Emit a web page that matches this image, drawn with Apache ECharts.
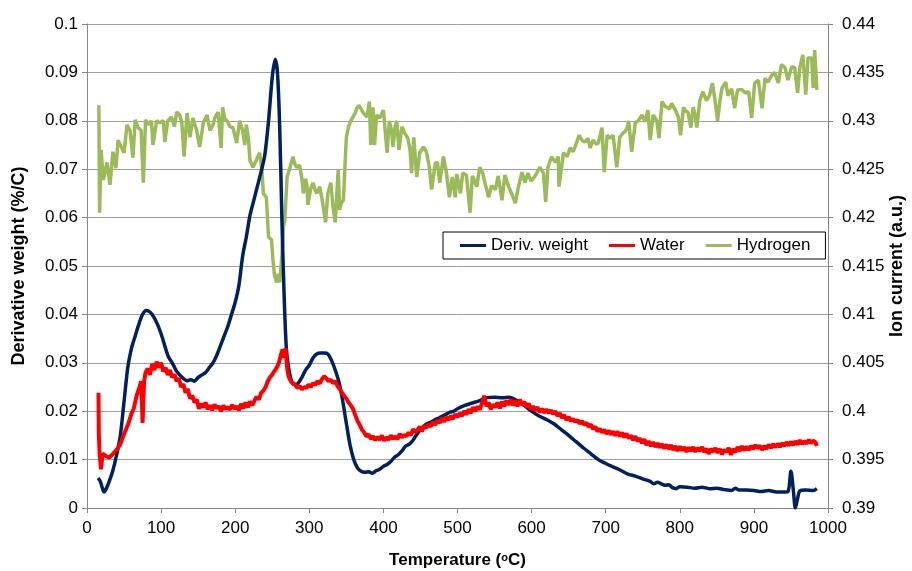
<!DOCTYPE html>
<html>
<head>
<meta charset="utf-8">
<title>TGA-MS</title>
<script src="https://cdn.jsdelivr.net/npm/echarts@6/dist/echarts.min.js"></script>
<style>
  html, body { margin: 0; padding: 0; background: #fff; }
  #chart { width: 912px; height: 571px; }
</style>
</head>
<body>
<div id="chart"></div>
<script>
// Temperature ticks (x), left axis (derivative weight) and right axis (ion current)
const tempTicks = [0, 100, 200, 300, 400, 500, 600, 700, 800, 900, 1000]
const leftTicks = [0, 0.01, 0.02, 0.03, 0.04, 0.05, 0.06, 0.07, 0.08, 0.09, 0.1]
const rightTicks = [0.39, 0.395, 0.4, 0.405, 0.41, 0.415, 0.42, 0.425, 0.43, 0.435, 0.44]

// Deriv. weight (%/C)
const derivTemp = [15, 18, 20, 23, 26, 30, 35, 40, 45, 50, 55, 60, 65, 70, 75, 80, 85, 90, 95, 100,
  105, 110, 115, 120, 125, 130, 135, 140, 145, 150, 155, 160, 165, 170, 175, 180, 185, 190, 195, 200,
  205, 210, 215, 220, 225, 230, 235, 240, 245, 250, 254, 257, 260, 263, 266, 269, 272, 276, 280, 285,
  290, 295, 300, 305, 310, 315, 320, 325, 330, 335, 340, 345, 350, 355, 360, 365, 370, 375, 380, 385,
  390, 395, 400, 405, 410, 415, 420, 425, 430, 435, 440, 445, 450, 455, 460, 465, 470, 475, 480, 485,
  490, 495, 500, 510, 520, 530, 540, 550, 560, 570, 580, 590, 600, 610, 620, 630, 640, 650, 660, 670,
  680, 690, 700, 710, 720, 730, 740, 750, 760, 765, 770, 775, 780, 785, 790, 795, 800, 810, 820, 830,
  840, 850, 860, 870, 875, 880, 890, 900, 910, 920, 930, 940, 946, 950, 953, 956, 959, 962, 970, 980, 985]
const derivValues = [0.0062, 0.0055, 0.0045, 0.0033, 0.0040, 0.0055, 0.0078, 0.0110, 0.0150, 0.0220,
  0.0290, 0.0330, 0.0355, 0.0380, 0.0400, 0.0408, 0.0405, 0.0395, 0.0380, 0.0360,
  0.0335, 0.0312, 0.0300, 0.0285, 0.0275, 0.0268, 0.0263, 0.0265, 0.0262, 0.0270,
  0.0275, 0.0280, 0.0290, 0.0300, 0.0315, 0.0335, 0.0355, 0.0375, 0.0400, 0.0425,
  0.0460, 0.0520, 0.0560, 0.0605, 0.0635, 0.0665, 0.0695, 0.0730, 0.0800, 0.0890,
  0.0927, 0.0900, 0.0790, 0.0600, 0.0440, 0.0330, 0.0290, 0.0262, 0.0255, 0.0258,
  0.0270, 0.0285, 0.0295, 0.0310, 0.0318, 0.0320, 0.0320, 0.0318, 0.0305, 0.0285,
  0.0260, 0.0222, 0.0175, 0.0130, 0.0100, 0.0083, 0.0076, 0.0074, 0.0075, 0.0072,
  0.0077, 0.0080, 0.0086, 0.0090, 0.0096, 0.0105, 0.0110, 0.0118, 0.0128, 0.0132,
  0.0140, 0.0152, 0.0162, 0.0170, 0.0175, 0.0178, 0.0183, 0.0186, 0.0190, 0.0194,
  0.0198, 0.0200, 0.0205, 0.0212, 0.0217, 0.0222, 0.0228, 0.0229, 0.0228, 0.0229,
  0.0222, 0.0212, 0.0200, 0.0190, 0.0183, 0.0174, 0.0162, 0.0150, 0.0137, 0.0124,
  0.0112, 0.0100, 0.0092, 0.0085, 0.0078, 0.0070, 0.0066, 0.0060, 0.0055, 0.0050,
  0.0053, 0.0050, 0.0047, 0.0048, 0.0042, 0.0040, 0.0044, 0.0043, 0.0041, 0.0043,
  0.0040, 0.0041, 0.0038, 0.0036, 0.0041, 0.0037, 0.0037, 0.0036, 0.0034, 0.0036,
  0.0033, 0.0033, 0.0034, 0.0076, 0.0040, 0.0000, 0.0020, 0.0035, 0.0037, 0.0036, 0.0040]

// Water ion current, plotted on the left axis scale as in the original
const waterTemp = [15.5, 16, 17, 19, 21, 25, 30, 35, 40, 45, 48, 52, 56, 60, 63, 67, 71, 73, 74, 75,
  77, 79, 82, 85, 88, 91, 94, 97, 100, 103, 106, 109, 112, 115, 118, 121, 124, 127, 130, 133,
  136, 139, 142, 145, 148, 151, 154, 157, 160, 163, 166, 169, 172, 175, 178, 181, 184, 187, 190, 193,
  196, 199, 202, 205, 208, 211, 214, 217, 220, 223, 226, 229, 232, 235, 238, 241, 244, 247, 250, 253,
  256, 259, 262, 264, 266, 268, 270, 272, 275, 278, 281, 284, 287, 290, 293, 296, 299, 302, 305, 308,
  311, 314, 317, 320, 323, 326, 329, 332, 335, 338, 341, 344, 347, 350, 353, 356, 359, 362, 365, 368,
  371, 374, 377, 380, 383, 386, 389, 392, 395, 398, 401, 404, 407, 410, 413, 416, 419, 422, 425, 428,
  431, 434, 437, 440, 443, 446, 449, 452, 455, 458, 461, 464, 467, 470, 473, 476, 479, 482, 485, 488,
  491, 494, 497, 500, 503, 506, 509, 512, 515, 518, 521, 524, 527, 530, 533, 536, 539, 542, 545, 548,
  551, 554, 557, 560, 563, 566, 569, 572, 575, 578, 581, 584, 587, 590, 593, 596, 599, 602, 605, 608,
  611, 614, 617, 620, 623, 626, 629, 632, 635, 638, 641, 644, 647, 650, 653, 656, 659, 662, 665, 668,
  671, 674, 677, 680, 683, 686, 689, 692, 695, 698, 701, 704, 707, 710, 713, 716, 719, 722, 725, 728,
  731, 734, 737, 740, 743, 746, 749, 752, 755, 758, 761, 764, 767, 770, 773, 776, 779, 782, 785, 788,
  791, 794, 797, 800, 803, 806, 809, 812, 815, 818, 821, 824, 827, 830, 833, 836, 839, 842, 845, 848,
  851, 854, 857, 860, 863, 866, 869, 872, 875, 878, 881, 884, 887, 890, 893, 896, 899, 902, 905, 908,
  911, 914, 917, 920, 923, 926, 929, 932, 935, 938, 941, 944, 947, 950, 953, 956, 959, 962, 965, 968,
  971, 974, 977, 980, 983, 985]
const waterValues = [0.0238, 0.0150, 0.0112, 0.0080, 0.0112, 0.0108, 0.0104, 0.0112, 0.0120, 0.0132,
  0.0145, 0.0160, 0.0175, 0.0195, 0.0205, 0.0232, 0.0250, 0.0262, 0.0225, 0.0176,
  0.0260, 0.0280, 0.0288, 0.0275, 0.0298, 0.0285, 0.0302, 0.0290, 0.0300, 0.0282,
  0.0290, 0.0275, 0.0285, 0.0270, 0.0276, 0.0262, 0.0268, 0.0250, 0.0256, 0.0238,
  0.0246, 0.0226, 0.0232, 0.0218, 0.0224, 0.0205, 0.0215, 0.0208, 0.0218, 0.0204,
  0.0212, 0.0202, 0.0214, 0.0206, 0.0210, 0.0200, 0.0212, 0.0204, 0.0209, 0.0203,
  0.0213, 0.0205, 0.0210, 0.0202, 0.0215, 0.0206, 0.0218, 0.0208, 0.0220, 0.0212,
  0.0222, 0.0230, 0.0224, 0.0238, 0.0242, 0.0250, 0.0262, 0.0270, 0.0276, 0.0283,
  0.0290, 0.0300, 0.0318, 0.0328, 0.0310, 0.0330, 0.0290, 0.0272, 0.0262, 0.0258,
  0.0254, 0.0248, 0.0252, 0.0245, 0.0250, 0.0248, 0.0255, 0.0250, 0.0258, 0.0254,
  0.0262, 0.0257, 0.0266, 0.0272, 0.0268, 0.0262, 0.0265, 0.0258, 0.0262, 0.0252,
  0.0246, 0.0238, 0.0232, 0.0226, 0.0218, 0.0212, 0.0205, 0.0192, 0.0180, 0.0172,
  0.0162, 0.0156, 0.0148, 0.0152, 0.0143, 0.0148, 0.0140, 0.0147, 0.0141, 0.0150,
  0.0139, 0.0146, 0.0141, 0.0150, 0.0143, 0.0148, 0.0142, 0.0153, 0.0146, 0.0151,
  0.0148, 0.0156, 0.0150, 0.0163, 0.0156, 0.0161, 0.0168, 0.0158, 0.0170, 0.0166,
  0.0173, 0.0168, 0.0178, 0.0172, 0.0181, 0.0176, 0.0186, 0.0178, 0.0188, 0.0182,
  0.0190, 0.0184, 0.0194, 0.0188, 0.0196, 0.0190, 0.0200, 0.0193, 0.0204, 0.0196,
  0.0208, 0.0200, 0.0210, 0.0203, 0.0216, 0.0232, 0.0210, 0.0218, 0.0204, 0.0214,
  0.0208, 0.0218, 0.0206, 0.0220, 0.0210, 0.0222, 0.0213, 0.0224, 0.0212, 0.0222,
  0.0210, 0.0224, 0.0213, 0.0220, 0.0208, 0.0216, 0.0204, 0.0210, 0.0202, 0.0208,
  0.0198, 0.0205, 0.0197, 0.0204, 0.0196, 0.0202, 0.0194, 0.0200, 0.0190, 0.0196,
  0.0186, 0.0192, 0.0182, 0.0188, 0.0180, 0.0184, 0.0178, 0.0182, 0.0174, 0.0180,
  0.0172, 0.0176, 0.0168, 0.0173, 0.0163, 0.0168, 0.0158, 0.0164, 0.0156, 0.0162,
  0.0153, 0.0160, 0.0152, 0.0158, 0.0150, 0.0158, 0.0148, 0.0156, 0.0146, 0.0154,
  0.0144, 0.0150, 0.0140, 0.0148, 0.0138, 0.0144, 0.0134, 0.0142, 0.0130, 0.0138,
  0.0128, 0.0136, 0.0126, 0.0134, 0.0125, 0.0132, 0.0123, 0.0131, 0.0122, 0.0130,
  0.0120, 0.0128, 0.0118, 0.0127, 0.0119, 0.0126, 0.0116, 0.0125, 0.0118, 0.0126,
  0.0116, 0.0124, 0.0118, 0.0126, 0.0115, 0.0123, 0.0112, 0.0122, 0.0116, 0.0124,
  0.0114, 0.0122, 0.0111, 0.0120, 0.0116, 0.0124, 0.0110, 0.0122, 0.0115, 0.0126,
  0.0118, 0.0128, 0.0119, 0.0127, 0.0120, 0.0128, 0.0122, 0.0130, 0.0123, 0.0129,
  0.0120, 0.0128, 0.0122, 0.0131, 0.0124, 0.0132, 0.0125, 0.0133, 0.0126, 0.0134,
  0.0128, 0.0136, 0.0129, 0.0137, 0.0130, 0.0138, 0.0131, 0.0140, 0.0132, 0.0138,
  0.0133, 0.0141, 0.0134, 0.0139, 0.0136, 0.0128]

// Hydrogen ion current (a.u.), right axis
const h2Temp = [16, 17, 19, 22, 27, 31, 35, 39, 42, 47, 50, 54, 58, 62, 65, 69, 73, 76, 79, 83,
  87, 89, 94, 98, 103, 105, 109, 114, 118, 121, 125, 128, 131, 135, 139, 143, 148, 152, 157, 162,
  166, 170, 173, 177, 181, 183, 186, 189, 193, 197, 202, 206, 210, 213, 215, 218, 220, 224, 227, 230,
  233, 236, 238, 242, 245, 249, 251, 253, 256, 258, 260, 263, 265, 267, 270, 274, 278, 280, 283, 287,
  290, 292, 295, 297, 298, 302, 305, 308, 310, 314, 317, 319, 322, 325, 329, 332, 335, 339, 341, 343,
  346, 350, 353, 356, 359, 362, 364, 367, 370, 373, 378, 381, 383, 386, 388, 391, 395, 400, 405, 408,
  411, 413, 416, 418, 421, 425, 429, 433, 436, 438, 441, 445, 449, 454, 458, 462, 465, 470, 473, 476,
  481, 485, 489, 493, 497, 499, 504, 507, 512, 517, 520, 523, 526, 530, 534, 537, 542, 546, 551, 555,
  560, 564, 569, 573, 578, 582, 587, 591, 595, 599, 602, 607, 611, 616, 619, 622, 627, 632, 636, 637,
  643, 648, 652, 656, 661, 664, 668, 672, 676, 679, 683, 687, 690, 695, 698, 702, 706, 710, 715, 719,
  723, 727, 729, 731, 735, 740, 744, 749, 753, 757, 760, 764, 769, 772, 776, 780, 783, 786, 789, 794,
  798, 801, 805, 808, 811, 815, 818, 821, 823, 827, 831, 836, 840, 844, 847, 851, 854, 857, 862, 865,
  870, 874, 878, 884, 888, 893, 897, 901, 906, 911, 915, 919, 924, 928, 933, 937, 942, 946, 951, 955,
  959, 962, 966, 970, 973, 978, 980, 982, 985]
const h2Values = [0.4316, 0.4205, 0.4270, 0.4239, 0.4257, 0.4234, 0.4268, 0.4251, 0.4280, 0.4272,
  0.4267, 0.4296, 0.4290, 0.4262, 0.4301, 0.4293, 0.4290, 0.4236, 0.4301, 0.4296,
  0.4300, 0.4275, 0.4300, 0.4298, 0.4300, 0.4278, 0.4300, 0.4304, 0.4294, 0.4309,
  0.4306, 0.4298, 0.4263, 0.4308, 0.4283, 0.4303, 0.4290, 0.4273, 0.4298, 0.4306,
  0.4290, 0.4296, 0.4304, 0.4309, 0.4272, 0.4314, 0.4302, 0.4300, 0.4294, 0.4293,
  0.4277, 0.4300, 0.4290, 0.4275, 0.4296, 0.4280, 0.4259, 0.4252, 0.4257, 0.4262,
  0.4267, 0.4250, 0.4225, 0.4221, 0.4180, 0.4177, 0.4156, 0.4140, 0.4133, 0.4142,
  0.4133, 0.4160, 0.4190, 0.4198, 0.4242, 0.4252, 0.4263, 0.4256, 0.4252, 0.4254,
  0.4240, 0.4225, 0.4240, 0.4232, 0.4213, 0.4230, 0.4236, 0.4228, 0.4225, 0.4232,
  0.4220, 0.4221, 0.4195, 0.4225, 0.4236, 0.4211, 0.4195, 0.4249, 0.4208, 0.4215,
  0.4218, 0.4283, 0.4294, 0.4300, 0.4304, 0.4308, 0.4313, 0.4316, 0.4312, 0.4308,
  0.4304, 0.4320, 0.4275, 0.4314, 0.4275, 0.4306, 0.4303, 0.4311, 0.4267, 0.4300,
  0.4290, 0.4273, 0.4295, 0.4300, 0.4270, 0.4294, 0.4287, 0.4282, 0.4270, 0.4246,
  0.4283, 0.4242, 0.4267, 0.4273, 0.4268, 0.4252, 0.4229, 0.4256, 0.4257, 0.4236,
  0.4263, 0.4247, 0.4221, 0.4242, 0.4221, 0.4245, 0.4225, 0.4246, 0.4244, 0.4205,
  0.4243, 0.4238, 0.4232, 0.4252, 0.4246, 0.4236, 0.4221, 0.4233, 0.4229, 0.4243,
  0.4218, 0.4244, 0.4232, 0.4225, 0.4215, 0.4231, 0.4247, 0.4236, 0.4246, 0.4238,
  0.4240, 0.4246, 0.4252, 0.4246, 0.4216, 0.4252, 0.4263, 0.4257, 0.4263, 0.4232,
  0.4267, 0.4263, 0.4272, 0.4268, 0.4278, 0.4285, 0.4280, 0.4278, 0.4282, 0.4272,
  0.4280, 0.4276, 0.4277, 0.4293, 0.4247, 0.4285, 0.4282, 0.4285, 0.4252, 0.4283,
  0.4287, 0.4290, 0.4293, 0.4300, 0.4268, 0.4298, 0.4300, 0.4306, 0.4299, 0.4311,
  0.4280, 0.4306, 0.4300, 0.4282, 0.4320, 0.4315, 0.4314, 0.4312, 0.4318, 0.4311,
  0.4304, 0.4285, 0.4314, 0.4310, 0.4309, 0.4293, 0.4314, 0.4305, 0.4293, 0.4321,
  0.4330, 0.4321, 0.4326, 0.4339, 0.4324, 0.4300, 0.4320, 0.4334, 0.4340, 0.4326,
  0.4333, 0.4313, 0.4332, 0.4332, 0.4329, 0.4330, 0.4303, 0.4339, 0.4342, 0.4313,
  0.4344, 0.4340, 0.4347, 0.4350, 0.4339, 0.4358, 0.4355, 0.4342, 0.4356, 0.4355,
  0.4329, 0.4355, 0.4368, 0.4327, 0.4365, 0.4365, 0.4334, 0.4373, 0.4332]

const seriesNames = ['Deriv. weight', 'Water', 'Hydrogen']
const seriesColors = ['#002060', '#FF0000', '#9BBB59']

const zip = (xs, ys) => xs.map((x, i) => [x, ys[i]])
const fmt = (v) => String(+v.toFixed(3))

const font = "'Liberation Sans', Arial, sans-serif"

const myChart = echarts.init(document.getElementById('chart'))

const option = {
  animation: false,
  backgroundColor: '#fff',
  textStyle: { fontFamily: font, color: '#000' },
  grid: { left: 87, right: 84, top: 24, bottom: 63, outerBoundsMode: 'none', containLabel: false },
  legend: {
    data: seriesNames,
    left: 443,
    top: 232,
    icon: 'rect',
    itemWidth: 26,
    itemHeight: 3,
    itemGap: 21,
    padding: [5, 15, 5, 17],
    backgroundColor: '#fff',
    borderColor: '#000',
    borderWidth: 1,
    borderRadius: 0,
    textStyle: { fontFamily: font, fontSize: 17, color: '#000' },
  },
  xAxis: {
    type: 'value',
    min: tempTicks[0],
    max: tempTicks[tempTicks.length - 1],
    interval: 100,
    name: '{t|Temperature (}{s|o}{t|C)}',
    nameLocation: 'middle',
    nameGap: 44,
    nameTextStyle: {
      rich: {
        t: { fontFamily: font, fontWeight: 'bold', fontSize: 17, color: '#000' },
        s: { fontFamily: font, fontWeight: 'bold', fontSize: 11, color: '#000', verticalAlign: 'top', padding: [0, 0, 5, 0] },
      },
    },
    axisLine: { onZero: false, lineStyle: { color: '#868686', width: 1 } },
    axisTick: { show: true, length: 5, lineStyle: { color: '#868686' } },
    axisLabel: { fontFamily: font, fontSize: 17, color: '#000', margin: 12, formatter: (v) => String(v) },
    splitLine: { show: false },
  },
  yAxis: [
    {
      type: 'value',
      min: leftTicks[0],
      max: leftTicks[leftTicks.length - 1],
      interval: 0.01,
      name: 'Derivative weight (%/C)',
      nameLocation: 'middle',
      nameGap: 59,
      nameTextStyle: { fontFamily: font, fontWeight: 'bold', fontSize: 18, color: '#000' },
      axisLine: { show: true, lineStyle: { color: '#868686', width: 1 } },
      axisTick: { show: true, length: 5, lineStyle: { color: '#868686' } },
      axisLabel: { fontFamily: font, fontSize: 17, color: '#000', margin: 9, formatter: fmt },
      splitLine: { show: true, lineStyle: { color: '#a0a0a0', width: 1 } },
    },
    {
      type: 'value',
      min: rightTicks[0],
      max: rightTicks[rightTicks.length - 1],
      interval: 0.005,
      position: 'right',
      name: 'Ion current (a.u.)',
      nameLocation: 'middle',
      nameGap: 60,
      nameRotate: 90,
      nameMoveOverlap: false,
      nameTextStyle: { fontFamily: font, fontWeight: 'bold', fontSize: 18, color: '#000' },
      axisLine: { show: true, lineStyle: { color: '#868686', width: 1 } },
      axisTick: { show: true, length: 5, lineStyle: { color: '#868686' } },
      axisLabel: { fontFamily: font, fontSize: 17, color: '#000', margin: 14, formatter: fmt },
      splitLine: { show: false },
    },
  ],
  series: [
    {
      name: seriesNames[2],
      type: 'line',
      yAxisIndex: 1,
      data: zip(h2Temp, h2Values),
      symbol: 'none',
      color: seriesColors[2],
      lineStyle: { width: 3.5, color: seriesColors[2] },
      z: 2,
    },
    {
      name: seriesNames[0],
      type: 'line',
      yAxisIndex: 0,
      data: zip(derivTemp, derivValues),
      symbol: 'none',
      smooth: 0.3,
      color: seriesColors[0],
      lineStyle: { width: 3.5, color: seriesColors[0] },
      z: 3,
    },
    {
      name: seriesNames[1],
      type: 'line',
      yAxisIndex: 0,
      data: zip(waterTemp, waterValues),
      symbol: 'none',
      color: seriesColors[1],
      lineStyle: { width: 4, color: seriesColors[1] },
      z: 4,
    },
  ],
}

myChart.setOption(option)
</script>
</body>
</html>
